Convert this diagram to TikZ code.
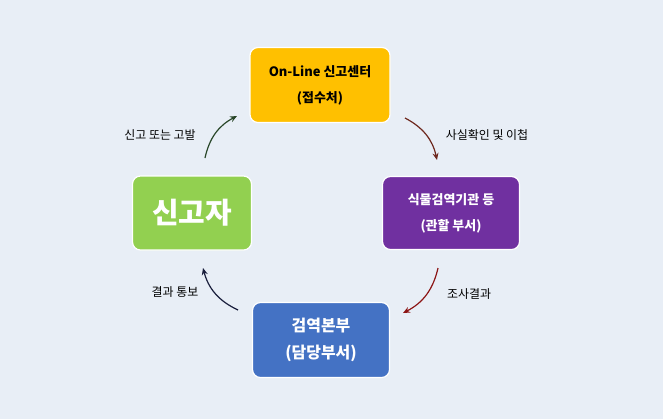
\documentclass[tikz,border=0pt]{standalone}
\usepackage{fontspec}
\setmainfont{Noto Sans CJK KR}
\usetikzlibrary{arrows.meta}
\definecolor{bgblue}{RGB}{232,238,246}
\definecolor{boxyellow}{RGB}{255,192,0}
\definecolor{boxpurple}{RGB}{112,48,160}
\definecolor{boxblue}{RGB}{68,114,196}
\definecolor{boxgreen}{RGB}{146,208,80}
\tikzset{
  stagebox/.style = {rounded corners=8pt, draw=white, line width=1.2pt, align=center, inner sep=0pt, font=\fontsize{13}{16}\selectfont\bfseries},
  flowarrow/.style = {-{Stealth[length=7pt,width=6pt]}, line width=1.2pt},
  flowlabel/.style = {font=\fontsize{12}{14}\selectfont, text=black}
}
\begin{document}
\begin{tikzpicture}[x=1bp,y=-1bp]
  \useasboundingbox (0,0) rectangle (663,419);
  \fill[bgblue] (0,0) rectangle (663,419);
  % boxes
  \node [stagebox, fill=boxyellow, minimum width=140bp, minimum height=75bp] (center) at (320,85)
    {On-Line 신고센터\\[10pt](접수처)};
  \node [stagebox, fill=boxpurple, text=white, minimum width=137bp, minimum height=73bp] (agency) at (451,213)
    {식물검역기관 등\\[10pt](관할 부서)};
  \node [stagebox, fill=boxblue, text=white, minimum width=137bp, minimum height=75bp, font=\fontsize{16}{19}\selectfont\bfseries] (hq) at (321,340)
    {검역본부\\[8pt](담당부서)};
  \node [stagebox, fill=boxgreen, text=white, minimum width=119bp, minimum height=74bp, font=\fontsize{29}{34}\selectfont\bfseries] (reporter) at (192,213)
    {신고자};
  % connectors
  \coordinate (a1) at (205,158); \coordinate (a2) at (237,116);
  \coordinate (b1) at (405,118); \coordinate (b2) at (437,160);
  \coordinate (c1) at (438,268); \coordinate (c2) at (403,313);
  \coordinate (d1) at (238,310); \coordinate (d2) at (203,268);
  \draw [flowarrow, draw={rgb,255:red,40;green,70;blue,40}] (a1) to[bend left=25] (a2);
  \draw [flowarrow, draw={rgb,255:red,110;green,40;blue,30}] (b1) to[bend left=25] (b2);
  \draw [flowarrow, draw={rgb,255:red,140;green,20;blue,20}] (c1) to[bend left=25] (c2);
  \draw [flowarrow, draw={rgb,255:red,25;green,30;blue,60}] (d1) to[bend left=25] (d2);
  % labels
  \node [flowlabel] (la) at (160,135) {신고 또는 고발};
  \node [flowlabel] (lb) at (487,135) {사실확인 및 이첩};
  \node [flowlabel] (lc) at (469,294) {조사결과};
  \node [flowlabel] (ld) at (175,292) {결과 통보};
\end{tikzpicture}
\end{document}
